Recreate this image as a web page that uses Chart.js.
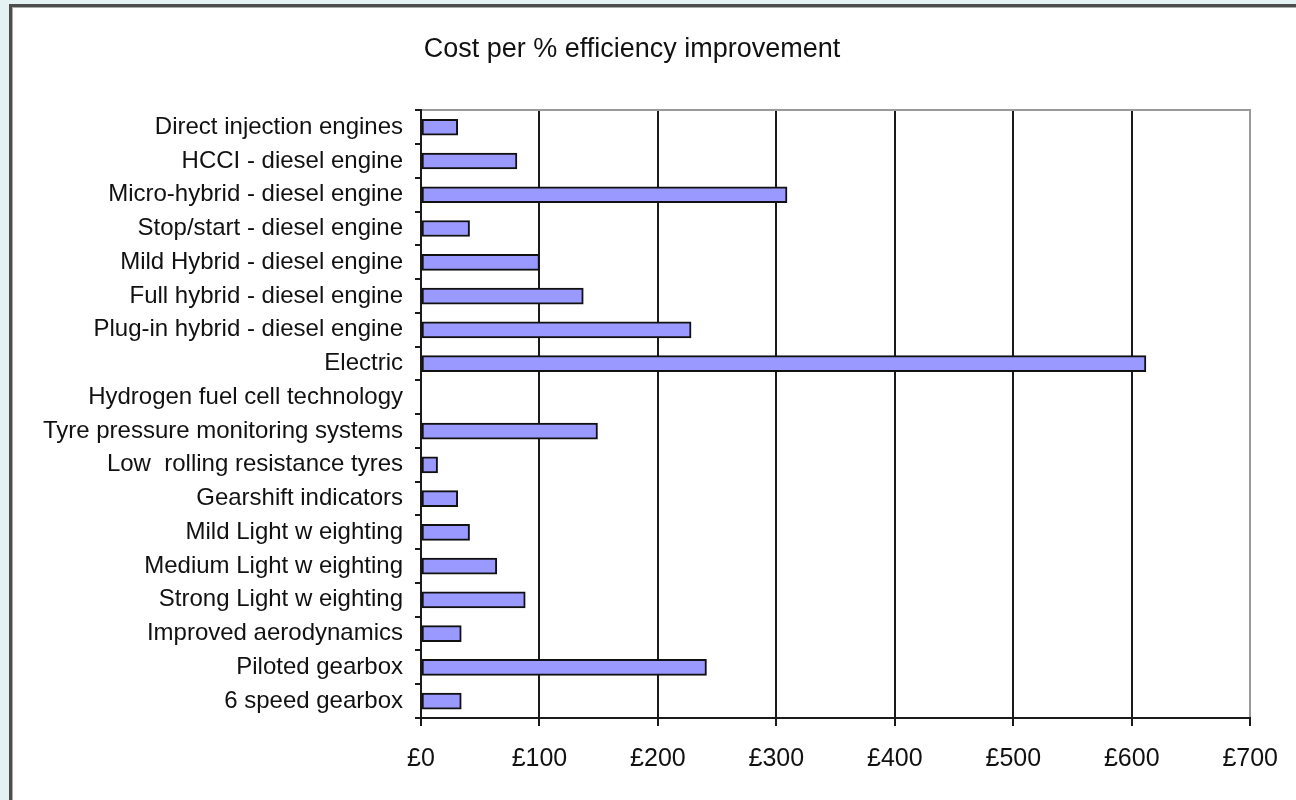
<!DOCTYPE html>
<html>
<head>
<meta charset="utf-8">
<script src="https://cdn.jsdelivr.net/npm/chart.js@4.4.1/dist/chart.umd.min.js"></script>
<style>
  body { margin: 0; background: #e4f2f3; overflow: hidden; }
  #frame {
    position: absolute; left: 9px; top: 4px; width: 1300px; height: 810px;
    background: #fff; border-left: 3px solid #4d4d4d; border-top: 3px solid #4d4d4d;
    box-shadow: inset 1px 1px 0 #aaa;
  }
  #chart { position: absolute; left: 0; top: 0; }
</style>
</head>
<body>
<div id="frame"><canvas id="chart" width="1284" height="793"></canvas></div>
<script>
'use strict';

const titleText = 'Cost per % efficiency improvement'
const measures = [
    'Direct injection engines',
    'HCCI - diesel engine',
    'Micro-hybrid - diesel engine',
    'Stop/start - diesel engine',
    'Mild Hybrid - diesel engine',
    'Full hybrid - diesel engine',
    'Plug-in hybrid - diesel engine',
    'Electric',
    'Hydrogen fuel cell technology',
    'Tyre pressure monitoring systems',
    'Low  rolling resistance tyres',
    'Gearshift indicators',
    'Mild Light w eighting',
    'Medium Light w eighting',
    'Strong Light w eighting',
    'Improved aerodynamics',
    'Piloted gearbox',
    '6 speed gearbox'
]
// £ per % improvement
const costs = [31, 81, 309, 41, 100, 137, 228, 612, null, 149, 14, 31, 41, 64, 88, 34, 241, 34]
const xMin = 0
const xMax = 700
const xStep = 100

const font = 'Liberation Sans, Arial, sans-serif'

function renderChart() {
    const data = {
        labels: measures,
        datasets: [
            {
                label: 'cost',
                data: costs,
                backgroundColor: '#9999ff',
                borderColor: '#111',
                borderWidth: 2,
                borderSkipped: false,
                barThickness: 16,
            },
        ]
    }

    const config = {
        type: 'bar',
        data: data,
        options: {
            indexAxis: 'y',
            responsive: false,
            animation: false,
            layout: { padding: { top: 0, right: 44, bottom: 0, left: 0 } },
            plugins: {
                legend: { display: false },
                tooltip: { enabled: false },
                title: {
                    display: true,
                    text: titleText,
                    color: '#111',
                    font: { family: font, size: 27, weight: 'normal' },
                    padding: { top: 26, bottom: 45 },
                },
            },
            scales: {
                x: {
                    min: xMin,
                    max: xMax,
                    ticks: {
                        stepSize: xStep,
                        color: '#111',
                        font: { family: font, size: 25 },
                        padding: 18,
                        maxRotation: 0,
                        callback: (v) => '£' + v,
                    },
                    grid: {
                        color: (ctx) => ctx.tick && ctx.tick.value === xMax ? '#9a9a9a' : '#1a1a1a',
                        lineWidth: 2,
                        tickLength: 8,
                        tickColor: '#1a1a1a',
                    },
                    border: { color: '#1a1a1a', width: 2 },
                    afterFit: (scale) => { scale.height = 82 },
                },
                xTop: {
                    position: 'top',
                    min: xMin,
                    max: xMax,
                    ticks: { display: false },
                    grid: { display: false, drawTicks: false },
                    border: { color: '#9a9a9a', width: 2 },
                    afterFit: (scale) => { scale.height = 0 },
                },
                y: {
                    offset: true,
                    ticks: {
                        color: '#111',
                        font: { family: font, size: 24 },
                        padding: 12,
                        autoSkip: false,
                    },
                    grid: {
                        offset: true,
                        drawOnChartArea: false,
                        tickLength: 6,
                        tickColor: '#1a1a1a',
                        lineWidth: 2,
                    },
                    border: { color: '#1a1a1a', width: 2 },
                    afterFit: (scale) => { scale.width = 409 },
                },
            },
        },
    }

    const chartElem = document.getElementById('chart')
    const resultChart = new Chart(chartElem, config)
}

renderChart();
</script>
</body>
</html>
